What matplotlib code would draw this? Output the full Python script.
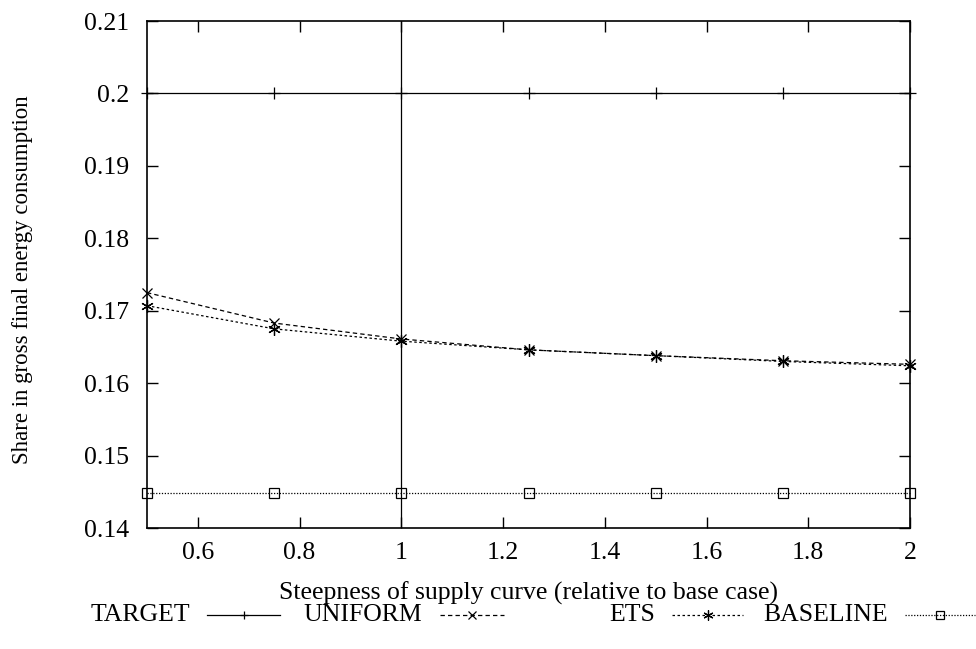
import matplotlib
matplotlib.use("Agg")
import matplotlib.pyplot as plt
from matplotlib.lines import Line2D

plt.rcParams['font.family'] = ['Liberation Serif', 'DejaVu Serif']

steepness = [0.5, 0.75, 1.0, 1.25, 1.5, 1.75, 2.0]
target = [0.2, 0.2, 0.2, 0.2, 0.2, 0.2, 0.2]
uniform = [0.1725, 0.1683, 0.1661, 0.1646, 0.1638, 0.1631, 0.1626]
ets = [0.1707, 0.1675, 0.1658, 0.1646, 0.1638, 0.1630, 0.1624]
baseline = [0.1448, 0.1448, 0.1448, 0.1448, 0.1448, 0.1448, 0.1448]

labels = ["TARGET", "UNIFORM", "ETS", "BASELINE"]

fig = plt.figure(figsize=(9.76, 6.49), dpi=100)
ax = fig.add_axes([0.1506, 0.1864, 0.7818, 0.7812])

fs = 18.5
lw = 0.9
styles = [
    dict(ls='-', marker='+', ms=8),
    dict(ls=(0, (3.5, 2.5)), marker='x', ms=7),
    dict(ls=(0, (2, 2)), marker=(6, 2, 0), ms=9),
    dict(ls=(0, (1, 1.3)), marker='s', ms=7, mfc='none'),
]
series = [target, uniform, ets, baseline]
for ys, st in zip(series, styles):
    ax.plot(steepness, ys, color='black', lw=lw, mew=0.9, clip_on=False, **st)

ax.axvline(1.0, color='black', lw=lw)

ax.set_xlim(0.5, 2.0)
ax.set_ylim(0.14, 0.21)
ax.set_xticks([0.6, 0.8, 1.0, 1.2, 1.4, 1.6, 1.8, 2.0])
ax.set_xticklabels(["0.6", "0.8", "1", "1.2", "1.4", "1.6", "1.8", "2"])
ax.set_yticks([0.14, 0.15, 0.16, 0.17, 0.18, 0.19, 0.2, 0.21])
ax.set_yticklabels(["0.14", "0.15", "0.16", "0.17", "0.18", "0.19", "0.2", "0.21"])
ax.tick_params(direction='in', top=True, right=True, length=8, width=1,
               labelsize=fs)
ax.tick_params(axis='y', pad=13)
ax.tick_params(axis='x', pad=10)
for sp in ax.spines.values():
    sp.set_linewidth(1.2)

ax.set_xlabel("Steepness of supply curve (relative to base case)", fontsize=fs)
ax.xaxis.set_label_coords(0.5, -0.105)
ax.set_ylabel("Share in gross final energy consumption", fontsize=16.5)
ax.yaxis.set_label_coords(-0.15, 0.49)

# gnuplot-style legend row under the plot
W, H = 976.0, 649.0
ly = 1 - 615 / H
text_right = [190, 422, 655, 888]
samples = [(207, 280), (440, 504), (672, 743), (905, 975)]
for lab, tr, (s0, s1), st in zip(labels, text_right, samples, styles):
    fig.text(tr / W, ly, lab, ha='right', va='center', fontsize=fs)
    fig.add_artist(Line2D([s0 / W, s1 / W], [ly, ly], color='black', lw=lw,
                          ls=st['ls'], transform=fig.transFigure))
    fig.add_artist(Line2D([(s0 + s1) / 2 / W], [ly], color='black', lw=0,
                          marker=st['marker'], ms=st['ms'] * 0.8, mew=0.9,
                          mfc=st.get('mfc', 'black'), transform=fig.transFigure))

fig.savefig("out.png", dpi=100)
